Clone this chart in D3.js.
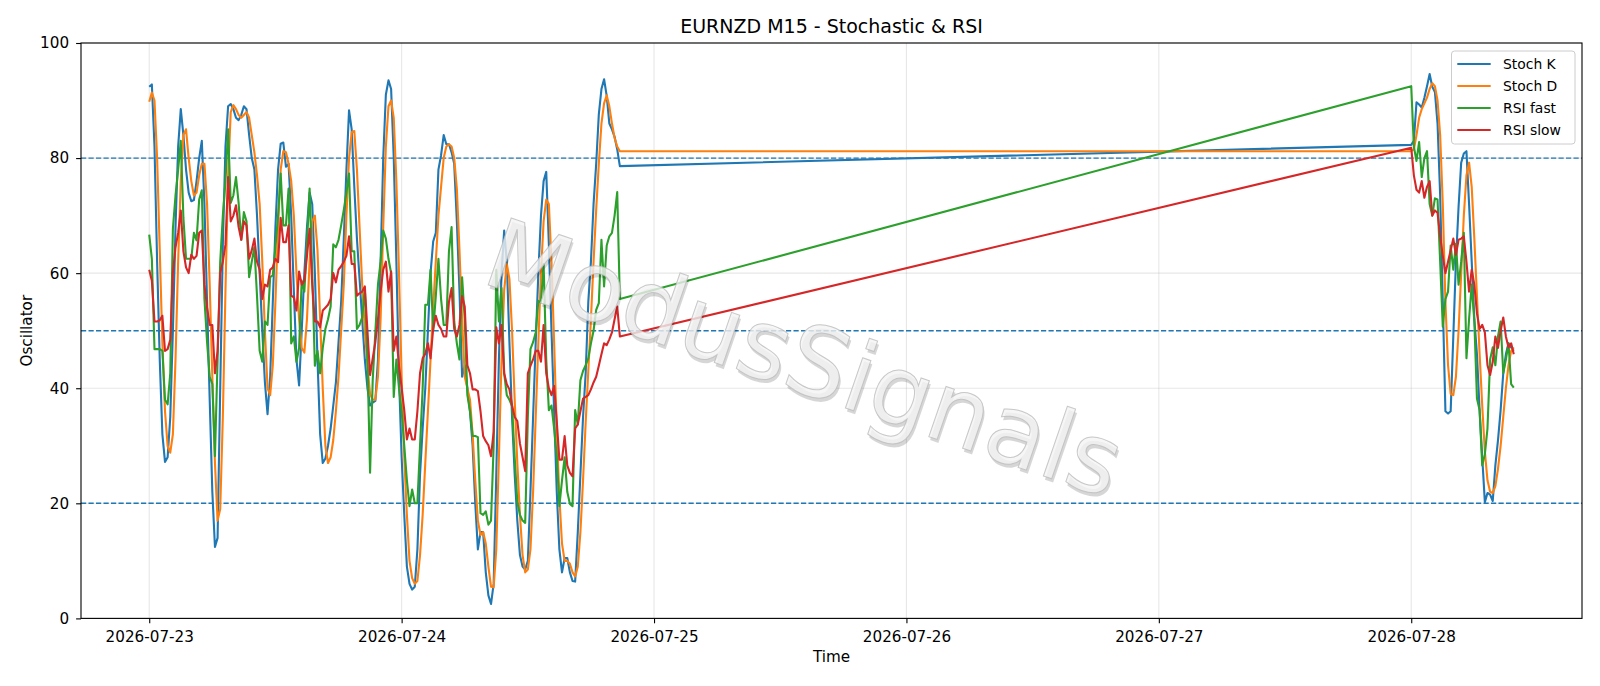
<!DOCTYPE html>
<html><head><meta charset="utf-8">
<script src="https://cdn.jsdelivr.net/npm/d3@7"></script>
<style>
body{margin:0;background:#fff}
svg{display:block}
text{font-family:"DejaVu Sans",sans-serif;fill:#000}
</style>
</head><body>
<svg id="chart" width="1600" height="686"></svg>
<script>
const chartTitle = "EURNZD M15 - Stochastic & RSI";
const xLabel = "Time";
const yLabel = "Oscillator";
const seriesNames = ["Stoch K", "Stoch D", "RSI fast", "RSI slow"];
const seriesColors = ["#1f77b4", "#ff7f0e", "#2ca02c", "#d62728"];
const xTickLabels = ["2026-07-23", "2026-07-24", "2026-07-25", "2026-07-26", "2026-07-27", "2026-07-28"];
const yTicks = [0, 20, 40, 60, 80, 100];
const levelLines = [80, 50, 20];
const watermark = "ModusSignals";
// two trading sessions of 15-minute bars
const sessionStarts = ["2026-07-23T00:00:00Z", "2026-07-28T00:00:00Z"];
const sessionBars = [180, 40];

const stochK = [
92.4, 92.8, 82, 62, 45, 32, 27.2, 28, 35, 50,
68, 82, 88.5, 84, 78, 74, 72.5, 72.7, 76, 80,
83, 72, 55, 38, 22, 12.4, 14, 40, 65, 82,
89, 89.4, 88.5, 87, 86.6, 87.5, 89, 88.5, 84, 80,
78, 70, 60, 50, 41, 35.5, 42, 55, 68, 78,
82.5, 82.7, 78.5, 79, 70, 57, 45, 40.5, 50, 60,
68, 74, 72, 60, 45, 32, 27, 27.8, 30, 33,
37, 41, 48, 55, 66, 78, 88.3, 85, 75, 66,
59, 52, 45, 40, 37, 37.5, 37.8, 45, 62, 80,
91, 93.5, 92, 80, 62, 42, 28, 18, 9, 6,
5, 5.5, 12, 25, 33, 40, 50, 60, 65.5, 67,
78, 80.5, 84, 82.4, 82.4, 81, 79, 69, 57, 42,
44, 40, 36, 30, 20, 12, 15, 15, 8, 4,
2.5, 6, 25, 45, 60, 67.4, 62, 48, 35, 25,
17, 11, 9, 8.5, 10, 22, 35, 48, 60, 70,
76, 77.6, 65, 50, 36, 22, 12, 8, 10.5, 10.5,
8, 6.5, 6.4, 15, 25, 35, 42.6, 55, 62, 72,
79, 87.6, 92, 93.7, 90.8, 86, 85, 83.7, 81.5, 78.6,
82.3, 83, 89.7, 89.3, 88.8, 90.5, 92.5, 94.6, 92.4, 91.5,
86, 73.5, 55, 36, 35.6, 36, 49, 62, 71.5, 79.2,
80.8, 81.2, 72, 62, 52, 45.9, 36.2, 28, 20.2, 21.8,
21.5, 20.4, 26.6, 31, 36.2, 42.6, 45.9, 47.8, 47.1, 46.5
];

const stochD = [
89.8, 91.4, 90, 80, 64, 48, 36, 30, 28.8, 32,
45, 62, 76, 84, 85, 80, 76, 73.5, 74, 77,
79, 79, 72, 58, 42, 27, 17, 19, 35, 57,
77, 88, 89.2, 88.5, 87.5, 87, 87.5, 88, 87, 84,
81, 77, 72, 62, 50, 40, 38.8, 44, 55, 68,
78, 81.2, 81, 79, 76, 70, 60, 52, 47, 46.2,
52, 62, 69, 70, 64, 52, 40, 30, 27, 28,
31, 36, 42, 50, 58, 70, 80, 84.5, 84.7, 78,
68, 58, 50, 44, 39, 38, 38, 42, 52, 68,
82, 89, 90, 87, 76, 60, 42, 28, 18, 10,
7, 6, 6.5, 11, 18, 27, 36, 45, 54, 62,
70, 75, 80, 82, 82.4, 82, 80, 74.7, 64, 52,
42, 40, 38, 32, 24, 17, 14.5, 15, 13, 9,
5.5, 5.4, 12, 28, 45, 57, 61.6, 59, 50, 38,
27, 18, 11, 8, 8.5, 12, 22, 35, 48, 60,
69, 72.8, 72, 62, 48, 33, 21, 13, 10, 10,
9.5, 8, 7.3, 9, 15, 24, 34, 43, 52, 62,
71, 79, 86, 89.5, 90.9, 89, 86, 83.5, 82, 81.2,
81.2, 81.5, 84, 87, 88.5, 89.5, 90.5, 92, 93, 92.5,
90, 84, 72, 55, 44, 39, 38.8, 42, 50, 60,
70, 77, 79.2, 75, 66, 56, 46, 37, 29, 24,
22, 21.8, 23, 26, 30, 35, 40, 44, 46.5, 47.1
];

const rsiFast = [
66.7, 62.5, 46.8, 46.8, 46.8, 46.5, 38, 37.2, 42.6, 67.7,
73.5, 78, 83, 69.6, 62.5, 62.5, 62.5, 67, 65.7, 72.8,
74.4, 55.5, 48, 42, 40.7, 28.2, 45, 62, 70, 76,
85, 72.2, 73.5, 76.7, 72.2, 65.8, 70.6, 69, 59.3, 62,
64.5, 56, 46.5, 44.6, 51.6, 51, 59.3, 59.6, 64.5, 70,
77.3, 68.3, 68.3, 74.7, 47.8, 49, 44.6, 47, 58.7, 56.8,
65, 74.7, 60, 43.9, 46.5, 42.6, 47, 50.3, 52, 54.2,
65, 64.5, 65.8, 68.3, 71, 74, 77.3, 63.8, 63.8, 50.3,
51, 52.3, 57.4, 45, 25.3, 41.4, 49.7, 58, 62, 67.4,
66, 62.5, 60, 38.5, 45, 40, 36, 30, 24, 19.5,
22.4, 20, 20, 30, 40, 54.5, 54.5, 60.6, 50, 56,
62.5, 55.5, 51, 51, 63.8, 68, 51.6, 47.8, 45, 59.3,
52, 38.8, 36, 31.7, 31.7, 31.5, 18.3, 18, 18.6, 16.3,
17, 30, 60.6, 51.6, 57.4, 42.6, 38.8, 38, 36.9, 28,
20.2, 18, 17, 16.6, 35, 46.8, 48, 49.7, 55.2, 54.9,
61.6, 45, 36.2, 37, 33, 28.2, 19.5, 24, 28, 22,
19.9, 19.5, 36.2, 33.7, 41.4, 43, 44, 45.2, 47.8, 50,
53.6, 54.8, 65.8, 57.7, 64.8, 66.4, 67, 70, 74.1, 55.5,
92.5, 82, 79.5, 82.8, 76.7, 80, 81.2, 72, 70, 73,
72.8, 62, 50.7, 55.5, 56.8, 64.8, 60.6, 65.1, 58, 62,
67, 45.2, 52, 58, 51.6, 38.2, 36.2, 26.6, 28.5, 33,
45, 47.1, 44, 49, 51.6, 42.6, 45, 47.8, 40.7, 40.1
];

const rsiSlow = [
60.6, 58.7, 51.6, 51.6, 51.8, 52.6, 46.5, 46.8, 48.4, 60,
64.5, 67, 70.9, 63.8, 61, 60, 63.2, 62.5, 63, 67,
67.4, 58, 54, 51, 51, 42.6, 46.5, 60, 62, 65,
76.7, 69, 70, 71.8, 68, 65.8, 69, 68.3, 62.5, 64,
66, 62, 60.6, 55.5, 58, 57.7, 60.6, 61, 62.5, 61.9,
69.6, 65.4, 65.4, 68.3, 56.1, 55.8, 53.5, 60.3, 58, 58.7,
63, 67.7, 58, 51.6, 51.6, 50.6, 53.5, 54, 54.5, 55.5,
60, 58.4, 60.6, 61.2, 62, 63, 66.4, 61.6, 61.6, 56.1,
56.5, 56.8, 57.7, 50, 42.3, 45.2, 48, 52, 56.8, 60.6,
62, 56.8, 60.3, 46.5, 49, 44, 40, 36.2, 31.1, 33,
31.1, 31.1, 36, 42.6, 45.2, 46, 47.8, 45.2, 50.3, 52.6,
51, 50.3, 49, 49, 55, 57.4, 50.3, 49, 51, 56,
54.2, 44, 42.6, 39.8, 39.8, 39.5, 36, 31.7, 30.8, 30.1,
28.2, 32.4, 50.6, 47.8, 51, 42.6, 40.7, 39.8, 37, 35,
34.3, 30.4, 28, 25.6, 42.6, 43.9, 45, 46.5, 46.5, 44.6,
51, 42.6, 40, 38.8, 40.4, 34.3, 27.6, 27.6, 31.7, 26.6,
25.3, 24.7, 33, 33.7, 36, 38.2, 38.5, 38.8, 39.8, 41,
42, 43.9, 45.9, 47.8, 47.5, 48.5, 49.7, 52, 54.2, 49,
81.8, 77, 74.5, 74, 76, 73.1, 75, 76, 70, 70.9,
70.5, 66.4, 63, 60, 62, 64, 66, 63.2, 65.8, 66,
66.4, 62, 56.8, 60.6, 58, 53, 50.3, 51, 49.7, 44,
42.3, 44.6, 49, 47, 50, 52.3, 49, 47.1, 47.8, 45.9
];

const allSeries = [stochK, stochD, rsiFast, rsiSlow];

// time stamps of the bars
const times = [];
sessionStarts.forEach((s, k) => {
  const t0 = new Date(s);
  for (let i = 0; i < sessionBars[k]; i++) times.push(d3.utcMinute.offset(t0, 15 * i));
});

const svg = d3.select("#chart");
const L = 81, R = 1582, T = 43, B = 618.4;

const tMin = times[0], tMax = times[times.length - 1];
const span = tMax - tMin;
const x = d3.scaleUtc()
  .domain([new Date(+tMin - 0.05 * span), new Date(+tMax + 0.05 * span)])
  .range([L, R]);
const y = d3.scaleLinear().domain([0, 100]).range([B, T]);
const xTicks = xTickLabels.map(s => new Date(s + "T00:00:00Z"));

// grid
const grid = svg.append("g");
grid.selectAll("line.gx").data(xTicks).join("line")
  .attr("x1", d => x(d)).attr("x2", d => x(d)).attr("y1", T).attr("y2", B)
  .attr("stroke", "#b0b0b0").attr("stroke-opacity", 0.3).attr("stroke-width", 1.1);
grid.selectAll("line.gy").data(yTicks).join("line")
  .attr("x1", L).attr("x2", R).attr("y1", d => y(d)).attr("y2", d => y(d))
  .attr("stroke", "#b0b0b0").attr("stroke-opacity", 0.3).attr("stroke-width", 1.1);

// level lines
svg.append("g").selectAll("line").data(levelLines).join("line")
  .attr("x1", L).attr("x2", R).attr("y1", d => y(d)).attr("y2", d => y(d))
  .attr("stroke", "#1f77b4").attr("stroke-width", 1.4).attr("stroke-dasharray", "5.2,2.3");

// series
svg.append("defs").append("clipPath").attr("id", "clip")
  .append("rect").attr("x", L).attr("y", T).attr("width", R - L).attr("height", B - T);
const line = d3.line().x((d, i) => x(times[i])).y(d => y(d));
const lg = svg.append("g").attr("clip-path", "url(#clip)");
allSeries.forEach((vals, k) => {
  lg.append("path").datum(vals).attr("d", line)
    .attr("fill", "none").attr("stroke", seriesColors[k]).attr("stroke-width", 2.1)
    .attr("stroke-linejoin", "round");
});

// watermark
const wm = svg.append("g").attr("transform", "translate(805,357) rotate(19)");
wm.append("text").text(watermark).attr("x", 2.5).attr("y", 3).attr("dy", "0.36em")
  .attr("text-anchor", "middle").style("font-size", "97px")
  .style("fill", "#000").style("fill-opacity", 0.16);
wm.append("text").text(watermark).attr("x", 0).attr("y", 0).attr("dy", "0.36em")
  .attr("text-anchor", "middle").style("font-size", "97px")
  .style("fill", "#f4f4f4").style("fill-opacity", 0.8)
  .style("stroke", "#bbbbbb").style("stroke-width", 1).style("stroke-opacity", 0.8);

// axes
const fs = "15.2px";
const xAxis = svg.append("g").attr("transform", `translate(0,${B})`)
  .call(d3.axisBottom(x).tickValues(xTicks).tickFormat(d3.utcFormat("%Y-%m-%d"))
    .tickSize(4.9).tickPadding(7.5).tickSizeOuter(0));
const yAxis = svg.append("g").attr("transform", `translate(${L},0)`)
  .call(d3.axisLeft(y).tickValues(yTicks).tickSize(4.9).tickPadding(7).tickSizeOuter(0));
[xAxis, yAxis].forEach(a => {
  a.select(".domain").remove();
  a.selectAll(".tick line").attr("stroke", "#000").attr("stroke-width", 1.1);
  a.selectAll(".tick text").style("font-size", fs).style("font-family", "DejaVu Sans").attr("fill", "#000");
});

// spines
svg.append("rect").attr("x", L).attr("y", T).attr("width", R - L).attr("height", B - T)
  .attr("fill", "none").attr("stroke", "#000").attr("stroke-width", 1.1);

// title & labels
svg.append("text").text(chartTitle).attr("x", (L + R) / 2).attr("y", 33)
  .attr("text-anchor", "middle").style("font-size", "19px");
svg.append("text").text(xLabel).attr("x", (L + R) / 2).attr("y", 662)
  .attr("text-anchor", "middle").style("font-size", fs);
svg.append("text").text(yLabel).attr("transform", `translate(31.5,${(T + B) / 2}) rotate(-90)`)
  .attr("text-anchor", "middle").style("font-size", fs);

// legend
const leg = svg.append("g");
leg.append("rect").attr("x", 1451.5).attr("y", 51).attr("width", 123.5).attr("height", 93)
  .attr("rx", 3).attr("fill", "#fff").attr("fill-opacity", 0.8)
  .attr("stroke", "#cccccc").attr("stroke-width", 1);
seriesNames.forEach((n, k) => {
  const yy = 64 + 22 * k;
  leg.append("line").attr("x1", 1457.3).attr("x2", 1490.7).attr("y1", yy).attr("y2", yy)
    .attr("stroke", seriesColors[k]).attr("stroke-width", 2.1);
  leg.append("text").text(n).attr("x", 1503).attr("y", yy).attr("dy", "0.36em")
    .style("font-size", "13.9px");
});
</script>
</body></html>
